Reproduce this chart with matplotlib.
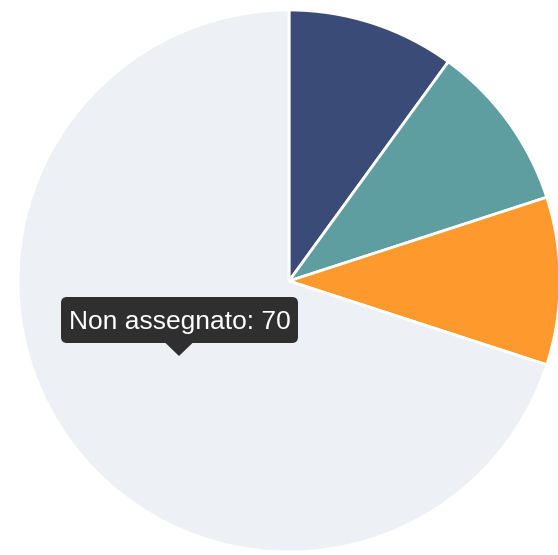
import matplotlib
matplotlib.use("Agg")
import matplotlib.pyplot as plt
from matplotlib.patches import FancyBboxPatch, Polygon

labels = ['Gruppo A', 'Gruppo B', 'Gruppo C', 'Non assegnato']
values = [10, 10, 10, 70]
colors = ['#3b4b77', '#5f9ea0', '#fe9a2d', '#edf0f4']

W, H = 558, 555
fig = plt.figure(figsize=(W / 100, H / 100), dpi=100)
ax = fig.add_axes([0, 0, 1, 1])

cx, cy, r = 289, H - 281, 271
ax.pie(values, colors=colors, startangle=90, counterclock=False,
       center=(cx, cy), radius=r, frame=True,
       wedgeprops=dict(edgecolor='white', linewidth=2))
ax.set_xlim(0, W)
ax.set_ylim(0, H)
ax.set_aspect('equal')
ax.axis('off')

# tooltip for the hovered slice
tip = f'{labels[3]}: {values[3]}'
bx0, by0, bw, bh = 61, H - 343, 237, 46
ax.add_patch(FancyBboxPatch((bx0, by0), bw, bh,
                            boxstyle='round,pad=0,rounding_size=6',
                            fc='#2f2f2f', ec='none', zorder=5))
tx = 179
ax.add_patch(Polygon([(tx - 14, by0 + 0.5), (tx + 14, by0 + 0.5), (tx, by0 - 13)],
                     closed=True, fc='#2f2f2f', ec='none', zorder=5))
ax.text(bx0 + bw / 2, by0 + bh / 2, tip, color='white', fontsize=19,
        family='Liberation Sans', ha='center', va='center_baseline', zorder=6)

fig.savefig('out.png', dpi=100, facecolor='white')
